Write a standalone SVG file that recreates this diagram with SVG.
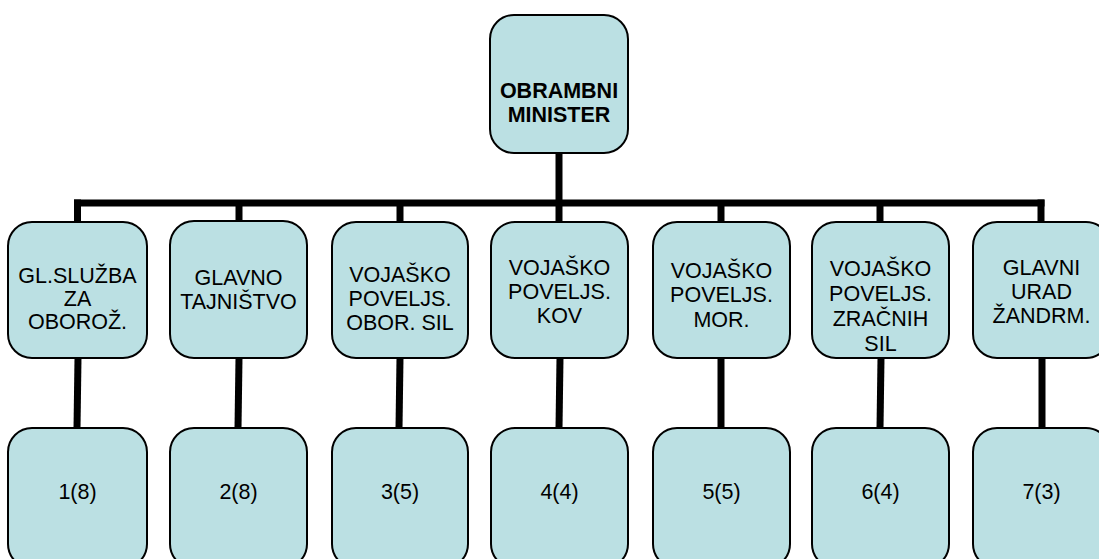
<svg xmlns="http://www.w3.org/2000/svg" width="1099" height="559" viewBox="0 0 1099 559">
<style>
.box{fill:#BBE0E3;stroke:#000;stroke-width:2}
.t{font-family:"Liberation Sans",Arial,sans-serif;font-size:21.5px;fill:#000;text-anchor:middle}
.b{font-weight:bold}
.c{stroke:#000;stroke-width:7;fill:none}
</style>
<rect width="1099" height="559" fill="#fff"/>
<g id="connectors">
<line class="c" x1="559" y1="153" x2="559" y2="203"/>
<line class="c" x1="74" y1="203" x2="1044.5" y2="203"/>
<polyline class="c" points="77.5,199.5 77.5,222"/>
<line class="c" x1="239" y1="203" x2="239" y2="222"/>
<line class="c" x1="400" y1="203" x2="400" y2="222"/>
<line class="c" x1="559" y1="203" x2="559" y2="222"/>
<line class="c" x1="721" y1="203" x2="721" y2="222"/>
<line class="c" x1="880" y1="203" x2="880" y2="222"/>
<line class="c" x1="1041" y1="199.5" x2="1041" y2="222"/>
<line class="c" x1="78" y1="358" x2="77" y2="428"/>
<line class="c" x1="239" y1="358" x2="238" y2="428"/>
<line class="c" x1="400" y1="358" x2="399" y2="428"/>
<line class="c" x1="560" y1="358" x2="559" y2="428"/>
<line class="c" x1="721" y1="358" x2="721" y2="428"/>
<line class="c" x1="881" y1="358" x2="880" y2="428"/>
<line class="c" x1="1042" y1="358" x2="1042" y2="428"/>
</g>
<g id="n0"><rect class="box" x="490" y="15" width="138" height="138" rx="24"/><text class="t b" x="559" y="98">OBRAMBNI</text><text class="t b" x="559" y="122">MINISTER</text></g>
<g id="n1"><rect class="box" x="8" y="222" width="139" height="136" rx="24"/><text class="t" x="77.5" y="283">GL.SLUŽBA</text><text class="t" x="77.5" y="306">ZA</text><text class="t" x="77.5" y="329">OBOROŽ.</text></g>
<g id="n2"><rect class="box" x="170" y="221" width="137" height="137" rx="24"/><text class="t" x="238.5" y="285">GLAVNO</text><text class="t" x="238.5" y="309">TAJNIŠTVO</text></g>
<g id="n3"><rect class="box" x="332" y="222" width="136" height="136" rx="24"/><text class="t" x="400" y="282">VOJAŠKO</text><text class="t" x="400" y="306">POVELJS.</text><text class="t" x="400" y="330">OBOR. SIL</text></g>
<g id="n4"><rect class="box" x="491" y="222" width="137" height="136" rx="24"/><text class="t" x="559.5" y="275">VOJAŠKO</text><text class="t" x="559.5" y="299">POVELJS.</text><text class="t" x="559.5" y="323">KOV</text></g>
<g id="n5"><rect class="box" x="653" y="222" width="137" height="136" rx="24"/><text class="t" x="721.5" y="278">VOJAŠKO</text><text class="t" x="721.5" y="302">POVELJS.</text><text class="t" x="721.5" y="327">MOR.</text></g>
<g id="n6"><rect class="box" x="812" y="222" width="137" height="136" rx="24"/><text class="t" x="880.5" y="276">VOJAŠKO</text><text class="t" x="880.5" y="301">POVELJS.</text><text class="t" x="880.5" y="326">ZRAČNIH</text><text class="t" x="880.5" y="351">SIL</text></g>
<g id="n7"><rect class="box" x="973" y="222" width="137" height="136" rx="24"/><text class="t" x="1041.5" y="275">GLAVNI</text><text class="t" x="1041.5" y="299">URAD</text><text class="t" x="1041.5" y="323">ŽANDRM.</text></g>
<g id="m1"><rect class="box" x="8" y="428" width="139" height="140" rx="24"/><text class="t" x="77.5" y="499">1(8)</text></g>
<g id="m2"><rect class="box" x="170" y="428" width="137" height="140" rx="24"/><text class="t" x="238.5" y="499">2(8)</text></g>
<g id="m3"><rect class="box" x="332" y="428" width="136" height="140" rx="24"/><text class="t" x="400" y="499">3(5)</text></g>
<g id="m4"><rect class="box" x="491" y="428" width="137" height="140" rx="24"/><text class="t" x="559.5" y="499">4(4)</text></g>
<g id="m5"><rect class="box" x="653" y="428" width="137" height="140" rx="24"/><text class="t" x="721.5" y="499">5(5)</text></g>
<g id="m6"><rect class="box" x="812" y="428" width="137" height="140" rx="24"/><text class="t" x="880.5" y="499">6(4)</text></g>
<g id="m7"><rect class="box" x="973" y="428" width="137" height="140" rx="24"/><text class="t" x="1041.5" y="499">7(3)</text></g>
</svg>
